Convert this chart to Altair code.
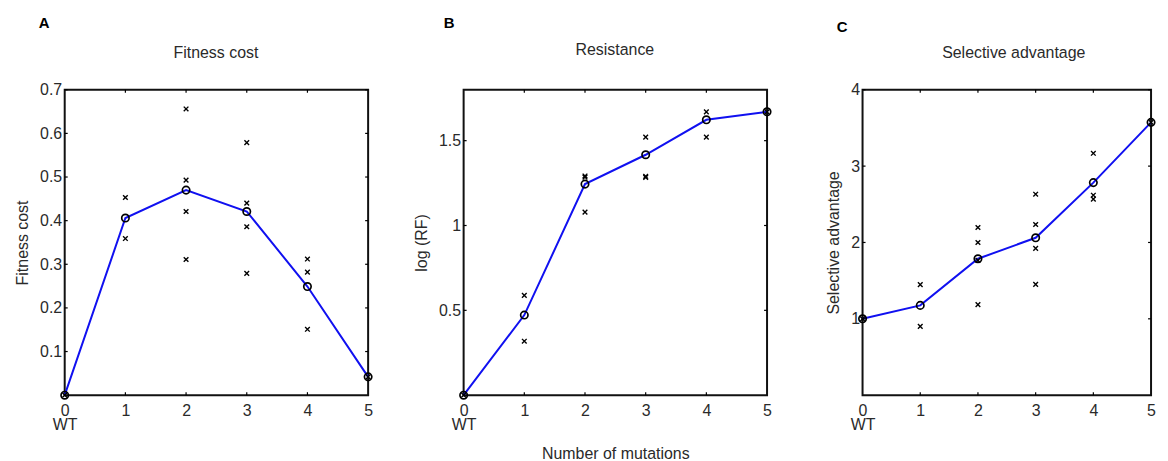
import altair as alt
import pandas as pd

# ---------------- data ----------------
mutations = [0, 1, 2, 3, 4, 5]
x_tick_values = [1, 2, 3, 4]

fitness_mean = [0.0, 0.406, 0.470, 0.421, 0.249, 0.042]
fitness_cross_n = [0, 1, 1, 2, 2, 2, 2, 3, 3, 3, 3, 4, 4, 4, 5]
fitness_cross_v = [0.0, 0.453, 0.359, 0.656, 0.493, 0.421, 0.311,
                   0.579, 0.440, 0.386, 0.279, 0.312, 0.282, 0.151, 0.042]
fitness_yticks = [0.1, 0.2, 0.3, 0.4, 0.5, 0.6, 0.7]

resist_mean = [0.0, 0.472, 1.244, 1.417, 1.623, 1.670]
resist_cross_n = [0, 1, 1, 2, 2, 2, 3, 3, 3, 4, 4, 5]
resist_cross_v = [0.0, 0.588, 0.318, 1.292, 1.285, 1.079,
                  1.521, 1.290, 1.284, 1.670, 1.521, 1.670]
resist_yticks = [0.5, 1, 1.5]

select_mean = [1.0, 1.176, 1.787, 2.061, 2.784, 3.573]
select_cross_n = [0, 1, 1, 2, 2, 2, 2, 3, 3, 3, 3, 4, 4, 4, 5]
select_cross_v = [1.0, 1.447, 0.902, 2.196, 2.0, 1.766, 1.186,
                  2.632, 2.235, 1.922, 1.451, 3.168, 2.619, 2.567, 3.573]
select_yticks = [1, 2, 3, 4]

# ---------------- style ----------------
FONT = "Liberation Sans"
H = 307
BLUE = "#1010f0"
TXT = "#2a2a2a"
CROSS = "M-1,-1L1,1M-1,1L1,-1"


def panel(letter, title, ytitle, means, cn, cv, ymax, yticks, xtitle,
          W, letter_dx, letter_dy, title_dy):
    mdf = pd.DataFrame({"n": mutations, "v": means})
    cdf = pd.DataFrame({"n": cn, "v": cv})
    xtdf = pd.DataFrame({"n": x_tick_values})
    ytdf = pd.DataFrame({"v": yticks})
    ldf = pd.DataFrame({"label": [letter]})
    tdf = pd.DataFrame({"label": [title]})

    xs = alt.Scale(domain=[0, 5], nice=False, zero=False)
    ys = alt.Scale(domain=[0, ymax], nice=False, zero=False)
    xaxis_kw = dict(
        values=mutations,
        labelExpr="datum.value == 0 ? ['0', 'WT'] : datum.label",
        domain=False, ticks=False, grid=False,
        labelFont=FONT, labelFontSize=16, labelColor=TXT,
        labelPadding=7, labelFlush=False, labelOverlap=False,
        labelLineHeight=15,
        titleFont=FONT, titleFontSize=16, titleFontWeight="normal",
        titleColor=TXT, titlePadding=13,
    )
    xaxis_kw["title"] = xtitle if xtitle else None
    xaxis = alt.Axis(**xaxis_kw)
    yaxis = alt.Axis(
        values=yticks, format="~g", domain=False, ticks=False, grid=False,
        labelFont=FONT, labelFontSize=16, labelColor=TXT,
        labelPadding=3, labelFlush=False, labelOverlap=False,
        title=ytitle, titleFont=FONT, titleFontSize=16,
        titleFontWeight="normal", titleColor=TXT, titlePadding=9,
    )
    X = alt.X("n:Q", scale=xs, axis=xaxis)
    Y = alt.Y("v:Q", scale=ys, axis=yaxis)

    line = alt.Chart(mdf).mark_line(color=BLUE, strokeWidth=2).encode(x=X, y=Y)
    crosses = alt.Chart(cdf).mark_point(
        shape=CROSS, size=22, strokeWidth=1.4, color="black",
        filled=False, opacity=1,
    ).encode(x=X, y=Y)
    circles = alt.Chart(mdf).mark_point(
        shape="circle", size=55, strokeWidth=1.7, color="black",
        filled=False, opacity=1,
    ).encode(x=X, y=Y)

    tb = alt.Chart(xtdf).mark_rule(color="black", strokeWidth=1.2).encode(
        x=X, y=alt.value(H), y2=alt.value(H - 3))
    tt = alt.Chart(xtdf).mark_rule(color="black", strokeWidth=1.2).encode(
        x=X, y=alt.value(0), y2=alt.value(3))
    tl = alt.Chart(ytdf).mark_rule(color="black", strokeWidth=1.2).encode(
        y=Y, x=alt.value(0), x2=alt.value(3))
    tr = alt.Chart(ytdf).mark_rule(color="black", strokeWidth=1.2).encode(
        y=Y, x=alt.value(W), x2=alt.value(W - 3))

    lab = alt.Chart(ldf).mark_text(
        align="left", baseline="alphabetic", fontSize=15, fontWeight="bold",
        font=FONT, color="black",
    ).encode(x=alt.value(letter_dx), y=alt.value(letter_dy), text="label:N")

    ttl = alt.Chart(tdf).mark_text(
        align="center", baseline="alphabetic", fontSize=16,
        font=FONT, color=TXT,
    ).encode(x=alt.value(152), y=alt.value(title_dy), text="label:N")

    return alt.layer(line, crosses, circles, tb, tt, tl, tr, lab, ttl).properties(
        width=W, height=H,
    )


pA = panel("A", "Fitness cost", "Fitness cost", fitness_mean,
           fitness_cross_n, fitness_cross_v, 0.7, fitness_yticks, None,
           305, -26, -62, -32)
pB = panel("B", "Resistance", "log (RF)", resist_mean,
           resist_cross_n, resist_cross_v, 1.8, resist_yticks,
           "Number of mutations", 305, -20, -62, -35)
pC = panel("C", "Selective advantage", "Selective advantage", select_mean,
           select_cross_n, select_cross_v, 4, select_yticks, None,
           290, -26, -58, -32)

chart = alt.hconcat(
    pA, pB, pC, spacing=96, bounds="flush",
    padding={"left": 5, "top": 6, "right": 0, "bottom": 0},
).resolve_scale(
    x="independent", y="independent"
).configure_view(stroke="#111111", strokeWidth=2)

chart.save("out.html", embed_options={"renderer": "svg", "actions": False})
